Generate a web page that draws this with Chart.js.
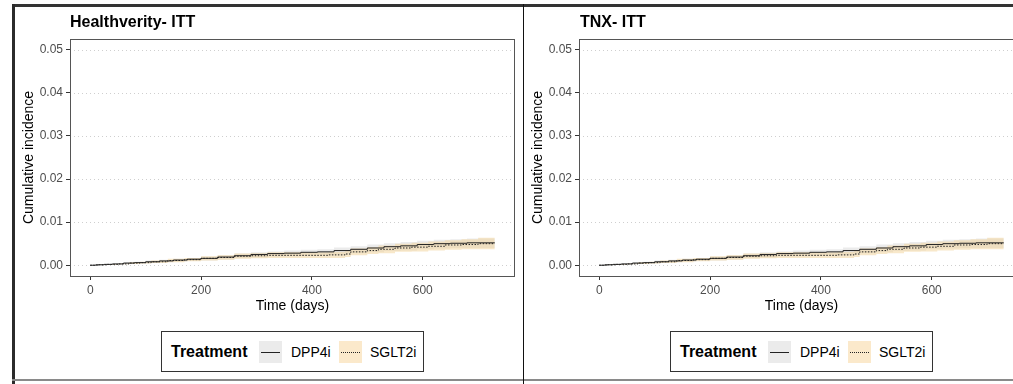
<!DOCTYPE html>
<html>
<head>
<meta charset="utf-8">
<script src="https://cdn.jsdelivr.net/npm/chart.js@4/dist/chart.umd.min.js"></script>
<style>
body{margin:0;width:1013px;height:384px;overflow:hidden;background:#fff;position:relative;font-family:"Liberation Sans",Arial,sans-serif}
.line{position:absolute}
.ptitle{position:absolute;top:14px;font-weight:bold;font-size:16px;line-height:16px;color:#000;white-space:nowrap}
canvas{position:absolute;top:7px}
.legend{position:absolute;top:331px;width:261px;height:39px;border:1px solid #333}
.legend span{position:absolute;white-space:nowrap}
.legend .ttl{font-weight:bold;font-size:16px;left:9px;top:12px;line-height:16px}
.sw{width:23px;height:22px;top:9px}
.sw div{position:absolute;left:2px;right:2px;top:11px}
.legend .lab{font-size:14px;top:13px;line-height:14px}
</style>
</head>
<body>
<div class="line" style="left:12px;top:4px;width:1001px;height:3px;background:#333"></div>
<div class="line" style="left:12px;top:4px;width:3px;height:380px;background:#2b2b2b"></div>
<div class="line" style="left:12px;top:379px;width:1001px;height:2px;background:#8a8a8a"></div>

<canvas id="c0" width="509" height="313" style="left:14px"></canvas>
<canvas id="c1" width="509" height="313" style="left:523px"></canvas>
<div class="line" style="left:523px;top:4px;width:1px;height:380px;background:#111;z-index:5"></div>

<div class="ptitle" id="t0" style="left:70px"></div>
<div class="ptitle" id="t1" style="left:580px"></div>

<div class="legend" style="left:161px">
  <span class="ttl">Treatment</span>
  <span class="sw" style="left:97px;background:#ebebeb"><div style="border-top:1px solid #222"></div></span>
  <span class="lab" style="left:129px">DPP4i</span>
  <span class="sw" style="left:177px;background:#fbe9cb"><div style="border-top:1px dotted #222"></div></span>
  <span class="lab" style="left:208px">SGLT2i</span>
</div>
<div class="legend" style="left:670px">
  <span class="ttl">Treatment</span>
  <span class="sw" style="left:97px;background:#ebebeb"><div style="border-top:1px solid #222"></div></span>
  <span class="lab" style="left:129px">DPP4i</span>
  <span class="sw" style="left:177px;background:#fbe9cb"><div style="border-top:1px dotted #222"></div></span>
  <span class="lab" style="left:208px">SGLT2i</span>
</div>

<script>
const panelTitles = ["Healthverity- ITT", "TNX- ITT"];
const xTicks = [0, 200, 400, 600];
const yTicks = [0, 0.01, 0.02, 0.03, 0.04, 0.05];

// DPP4i cumulative incidence (step curve) and band
const dppDays = [0,10,25,40,60,80,100,125,150,175,200,230,260,290,320,350,380,410,440,470,500,530,560,590,620,650,680,730];
const dppInc  = [0,.0001,.0002,.0003,.0005,.0006,.0008,.0010,.0012,.0014,.0016,.0019,.0022,.0025,.0027,.0028,.0030,.0031,.0034,.0037,.0040,.0043,.0045,.0048,.0050,.0051,.0052,.0052];
const dppLow  = [0,.00005,.0001,.0002,.0003,.0004,.0005,.0007,.0008,.0010,.0011,.0013,.0016,.0018,.0020,.0021,.0022,.0023,.0025,.0028,.0030,.0033,.0034,.0037,.0039,.0040,.0040,.0040];
const dppUp   = [0,.00015,.0003,.0004,.0007,.0008,.0011,.0013,.0015,.0017,.0020,.0024,.0027,.0030,.0032,.0034,.0036,.0037,.0041,.0044,.0048,.0051,.0054,.0057,.0059,.0060,.0062,.0062];

// SGLT2i cumulative incidence (step curve) and band
const sgltDays = [0,15,30,50,70,90,110,140,170,200,230,260,290,320,360,400,430,460,470,500,520,550,580,610,640,670,700,730];
const sgltInc  = [0,.0001,.0002,.0003,.0005,.0006,.0008,.0011,.0013,.0016,.0018,.0021,.0022,.0023,.0023,.0023,.0024,.0026,.0031,.0034,.0037,.0040,.0042,.0044,.0047,.0048,.0050,.0050];
const sgltLow  = [0,.00005,.0001,.0002,.0003,.0004,.0005,.0007,.0009,.0011,.0013,.0015,.0016,.0017,.0017,.0017,.0017,.0019,.0023,.0026,.0028,.0031,.0032,.0034,.0036,.0037,.0037,.0037];
const sgltUp   = [0,.00015,.0003,.0004,.0007,.0008,.0011,.0015,.0017,.0021,.0023,.0027,.0028,.0030,.0030,.0030,.0031,.0034,.0039,.0042,.0046,.0050,.0052,.0055,.0058,.0060,.0064,.0064];

Chart.defaults.font.family = '"Liberation Sans", Arial, sans-serif';

function pts(xs, ys) { return xs.map((x, i) => ({x: x, y: ys[i]})); }

const panelDeco = {
  id: 'panelDeco',
  beforeDatasetsDraw(chart) {
    const {ctx, chartArea: a, scales} = chart;
    ctx.save();
    ctx.strokeStyle = '#cfcfcf';
    ctx.lineWidth = 1;
    ctx.setLineDash([1, 3]);
    yTicks.forEach(v => {
      const y = Math.round(scales.y.getPixelForValue(v)) + 0.5;
      ctx.beginPath(); ctx.moveTo(a.left, y); ctx.lineTo(a.right, y); ctx.stroke();
    });
    ctx.restore();
  },
  afterDatasetsDraw(chart) {
    const {ctx, chartArea: a} = chart;
    ctx.save();
    ctx.strokeStyle = '#555';
    ctx.lineWidth = 1;
    ctx.strokeRect(a.left + 0.5, a.top + 0.5, a.right - a.left - 1, a.bottom - a.top);
    ctx.restore();
  }
};

function band(xs, ys, color, fill, order) {
  return {data: pts(xs, ys), stepped: 'before', borderWidth: 0, borderColor: 'rgba(0,0,0,0)',
          pointRadius: 0, backgroundColor: color, fill: fill, order: order};
}

function makePanel(i) {
  document.getElementById('t' + i).textContent = panelTitles[i];
  new Chart(document.getElementById('c' + i), {
    type: 'line',
    data: {
      datasets: [
        {label: 'DPP4i', data: pts(dppDays, dppInc), stepped: 'before', borderColor: '#222', borderWidth: 1, pointRadius: 0, fill: false, order: 0},
        {label: 'SGLT2i', data: pts(sgltDays, sgltInc), stepped: 'before', borderColor: '#222', borderWidth: 1, borderDash: [1.5, 1.5], pointRadius: 0, fill: false, order: 0},
        band(dppDays, dppUp, 'rgba(205,205,205,0.4)', '+1', 2),
        band(dppDays, dppLow, 'rgba(0,0,0,0)', false, 2),
        band(sgltDays, sgltUp, 'rgba(242,210,150,0.5)', '+1', 1),
        band(sgltDays, sgltLow, 'rgba(0,0,0,0)', false, 1)
      ]
    },
    options: {
      responsive: false,
      animation: false,
      devicePixelRatio: 1,
      layout: {padding: {left: 0, right: 8, top: 32, bottom: 0}},
      plugins: {legend: {display: false}, tooltip: {enabled: false}},
      scales: {
        x: {
          type: 'linear', min: -36.5, max: 766.5,
          afterBuildTicks: s => { s.ticks = xTicks.map(v => ({value: v})); },
          afterFit: s => { s.height = 44; },
          ticks: {color: '#4d4d4d', font: {size: 12}, padding: 3, maxRotation: 0, autoSkip: false, callback: v => String(v)},
          grid: {drawOnChartArea: false, drawTicks: true, tickLength: 4, tickColor: '#333'},
          border: {display: false},
          title: {display: true, text: 'Time (days)', color: '#000', font: {size: 14}, padding: {top: 0, bottom: 5}}
        },
        y: {
          type: 'linear', min: -0.0025, max: 0.0525,
          afterBuildTicks: s => { s.ticks = yTicks.map(v => ({value: v})); },
          afterFit: s => { s.width = 56; },
          ticks: {color: '#4d4d4d', font: {size: 12}, padding: 3, callback: v => v.toFixed(2)},
          grid: {drawOnChartArea: false, drawTicks: true, tickLength: 4, tickColor: '#333'},
          border: {display: false},
          title: {display: true, text: 'Cumulative incidence', color: '#000', font: {size: 14}, padding: {top: 7, bottom: 0}}
        }
      }
    },
    plugins: [panelDeco]
  });
}

makePanel(0);
makePanel(1);
</script>
</body>
</html>
